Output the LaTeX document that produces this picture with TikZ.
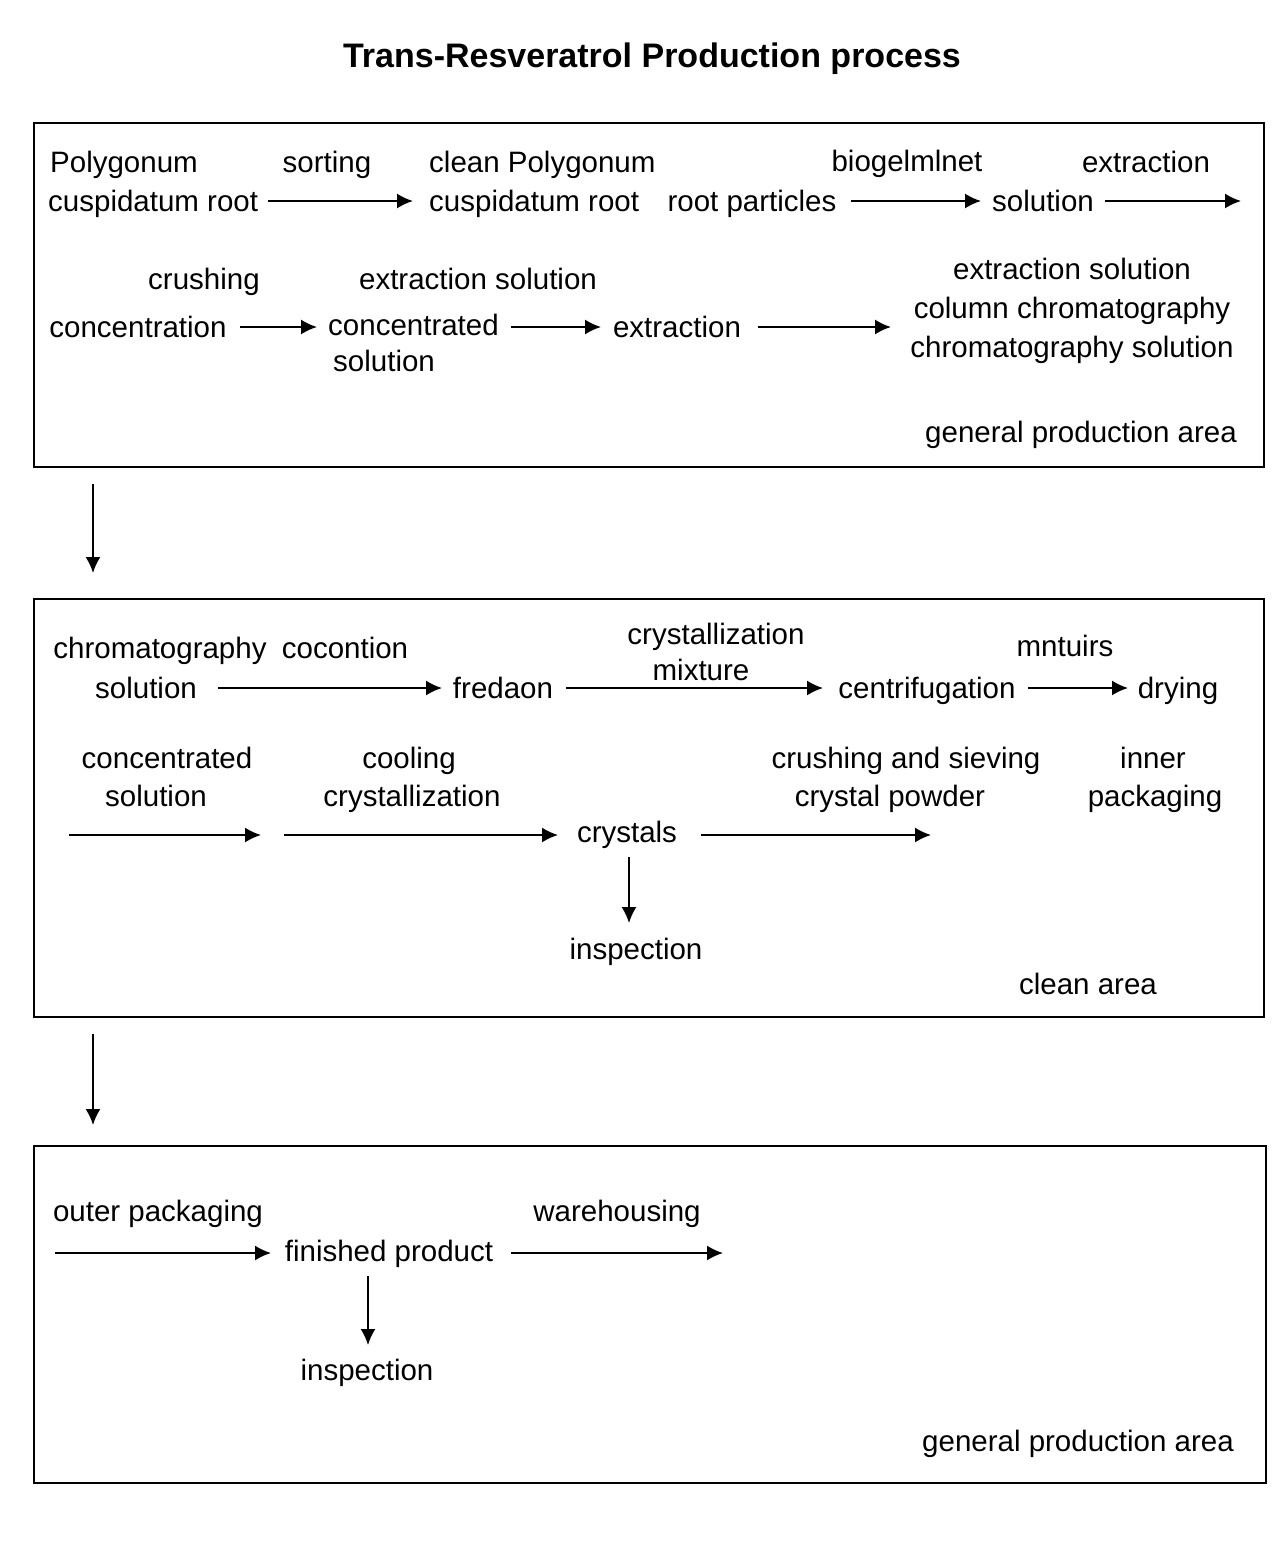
\documentclass[tikz,border=0pt]{standalone}
\usepackage{fontspec}
\setmainfont{Liberation Sans}
\usetikzlibrary{arrows.meta}
\begin{document}
\begin{tikzpicture}[x=1pt,y=-1pt,
  lbl/.style={font=\fontsize{29.5}{39}\selectfont, inner sep=0pt, anchor=base},
  lblw/.style={lbl, anchor=base west, align=left},
  area/.style={draw=black, line width=1.8pt, inner sep=0pt, anchor=north west},
  arr/.style={line width=1.8pt, -{Latex[length=16pt,width=15pt]}},
  ttl/.style={font=\fontsize{34}{40}\selectfont\bfseries, inner sep=0pt, anchor=base}]
\useasboundingbox[fill=white] (0,0) rectangle (1280,1561);
\node[ttl] (title) at (652,67) {Trans-Resveratrol Production process};
% boxes
\node[area, minimum width=1230pt, minimum height=344pt] (box1) at (33,122) {};
\node[area, minimum width=1230pt, minimum height=418pt] (box2) at (33,598) {};
\node[area, minimum width=1232pt, minimum height=337pt] (box3) at (33,1145) {};
% box 1, row 1 (multi-line nodes: base = last line)
\node[lblw] (root) at (48,211) {\hspace*{2pt}Polygonum\\cuspidatum root};
\node[lbl] (sorting) at (327,172) {sorting};
\node[lblw] (clean) at (429,211) {clean Polygonum\\cuspidatum root};
\node[lbl] (particles) at (752,211) {root particles};
\node[lbl] (bio) at (907,171) {biogelmlnet};
\node[lbl] (sol1) at (1043,211) {solution};
\node[lbl] (extr1) at (1146,172) {extraction};
\coordinate (a1s) at (268,201); \coordinate (a1e) at (413,201);
\coordinate (a2s) at (851,201); \coordinate (a2e) at (981,201);
\coordinate (a3s) at (1105,201); \coordinate (a3e) at (1241,201);
\draw[arr] (a1s) -- (a1e);
\draw[arr] (a2s) -- (a2e);
\draw[arr] (a3s) -- (a3e);
% box 1, row 2
\node[lbl] (crush1) at (204,289) {crushing};
\node[lbl] (conc) at (138,337) {concentration};
\node[lbl] (exsol) at (478,289) {extraction solution};
\node[lblw] (concsol) at (328,371) {concentrated\\[-3pt]\hspace*{5pt}solution};
\node[lbl] (extr2) at (677,337) {extraction};
\node[lbl, align=center] (column) at (1072,357) {extraction solution\\column chromatography\\chromatography solution};
\node[lbl] (gpa1) at (1081,442) {general production area};
\coordinate (b1s) at (240,327); \coordinate (b1e) at (317,327);
\coordinate (b2s) at (511,327); \coordinate (b2e) at (601,327);
\coordinate (b3s) at (758,327); \coordinate (b3e) at (891,327);
\draw[arr] (b1s) -- (b1e);
\draw[arr] (b2s) -- (b2e);
\draw[arr] (b3s) -- (b3e);
% between boxes
\coordinate (d1s) at (93,484); \coordinate (d1e) at (93,573);
\draw[arr] (d1s) -- (d1e);
% box 2, row 1
\node[lbl] (chrom) at (160,658) {chromatography};
\node[lbl] (chromsol) at (146,698) {solution};
\node[lbl] (cocon) at (345,658) {cocontion};
\node[lbl] (fred) at (503,698) {fredaon};
\node[lbl] (cryst1) at (716,644) {crystallization};
\node[lbl] (mix) at (701,680) {mixture};
\node[lbl] (centri) at (927,698) {centrifugation};
\node[lbl] (mnt) at (1065,656) {mntuirs};
\node[lbl] (dry) at (1178,698) {drying};
\coordinate (c1s) at (218,688); \coordinate (c1e) at (442,688);
\coordinate (c2s) at (566,688); \coordinate (c2e) at (823,688);
\coordinate (c3s) at (1028,688); \coordinate (c3e) at (1128,688);
\draw[arr] (c1s) -- (c1e);
\draw[arr] (c2s) -- (c2e);
\draw[arr] (c3s) -- (c3e);
% box 2, row 2
\node[lbl] (concA) at (167,768) {concentrated};
\node[lbl] (concB) at (156,806) {solution};
\node[lbl] (coolA) at (409,768) {cooling};
\node[lbl] (coolB) at (412,806) {crystallization};
\node[lbl] (crystals) at (627,842) {crystals};
\node[lbl] (sieveA) at (906,768) {crushing and sieving};
\node[lbl] (sieveB) at (890,806) {crystal powder};
\node[lbl] (innerA) at (1153,768) {inner};
\node[lbl] (innerB) at (1155,806) {packaging};
\node[lbl] (insp1) at (636,959) {inspection};
\node[lbl] (clean2) at (1088,994) {clean area};
\coordinate (e1s) at (69,835); \coordinate (e1e) at (261,835);
\coordinate (e2s) at (284,835); \coordinate (e2e) at (558,835);
\coordinate (e3s) at (701,835); \coordinate (e3e) at (931,835);
\draw[arr] (e1s) -- (e1e);
\draw[arr] (e2s) -- (e2e);
\draw[arr] (e3s) -- (e3e);
\coordinate (i1s) at (629,857); \coordinate (i1e) at (629,923);
\draw[arr] (i1s) -- (i1e);
% between boxes
\coordinate (d2s) at (93,1034); \coordinate (d2e) at (93,1125);
\draw[arr] (d2s) -- (d2e);
% box 3
\node[lbl] (outer) at (158,1221) {outer packaging};
\node[lbl] (finished) at (389,1261) {finished product};
\node[lbl] (ware) at (617,1221) {warehousing};
\node[lbl] (insp2) at (367,1380) {inspection};
\node[lbl] (gpa3) at (1078,1451) {general production area};
\coordinate (f1s) at (55,1253); \coordinate (f1e) at (271,1253);
\coordinate (f2s) at (511,1253); \coordinate (f2e) at (723,1253);
\draw[arr] (f1s) -- (f1e);
\draw[arr] (f2s) -- (f2e);
\coordinate (i2s) at (368,1276); \coordinate (i2e) at (368,1345);
\draw[arr] (i2s) -- (i2e);
\end{tikzpicture}
\end{document}
